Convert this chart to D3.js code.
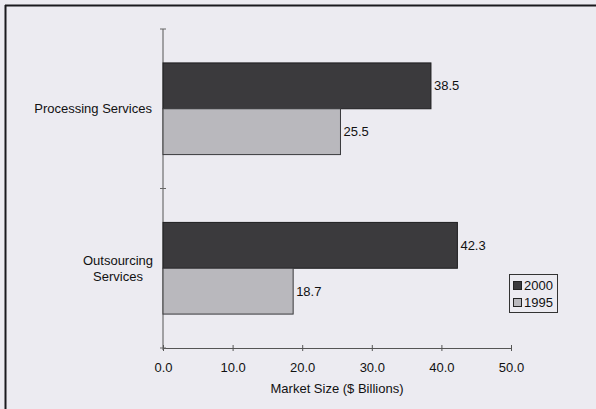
<!DOCTYPE html>
<html>
<head>
<meta charset="utf-8">
<script src="https://cdn.jsdelivr.net/npm/d3@7"></script>
<style>
  html, body { margin: 0; padding: 0; background: #ecebf1; }
  svg { display: block; }
  text { font-family: "Liberation Sans", Arial, sans-serif; fill: #111; }
</style>
</head>
<body>
<svg id="chart" width="596" height="409"></svg>
<script>
// Market size by service type, in $ billions
const categories = ["Processing Services", "Outsourcing Services"];
const categoryLines = [["Processing Services"], ["Outsourcing", "Services"]];
const seriesNames = ["2000", "1995"];
const values2000 = [38.5, 42.3];
const values1995 = [25.5, 18.7];
const xTicks = [0, 10, 20, 30, 40, 50];
const xTitle = "Market Size ($ Billions)";

const seriesValues = [values2000, values1995];
const fills = ["#3b3a3d", "#b9b8bd"];
const strokes = ["#1e1e20", "#3a3a3c"];

const svg = d3.select("#chart");

// page frame (top and left edges)
svg.append("line").attr("x1", 5).attr("x2", 596).attr("y1", 5.5).attr("y2", 5.5)
  .attr("stroke", "#1a1a1e").attr("stroke-width", 2);
svg.append("line").attr("x1", 5.5).attr("x2", 5.5).attr("y1", 5).attr("y2", 409)
  .attr("stroke", "#1a1a1e").attr("stroke-width", 2);

const plot = { left: 163, right: 511, top: 29, bottom: 348 };

const x = d3.scaleLinear().domain([0, 50]).range([plot.left, plot.right]);
const y = d3.scaleBand().domain(categories).range([plot.top, plot.bottom]);
const inner = d3.scaleBand().domain(seriesNames).range([0, y.bandwidth()]).paddingOuter(0.74).paddingInner(0);

// x axis
const xAxis = d3.axisBottom(x).tickValues(xTicks).tickFormat(d3.format(".1f")).tickSize(0);
const gx = svg.append("g").attr("transform", `translate(0,${plot.bottom})`).call(xAxis);
gx.select(".domain").attr("stroke", "#555");
gx.selectAll(".tick line").remove();
gx.selectAll(".tick").append("line").attr("y1", -3).attr("y2", 3).attr("stroke", "#555");
gx.selectAll(".tick text").attr("dy", 0).attr("y", 24).attr("font-size", 13)
  .style("font-family", "Liberation Sans, Arial, sans-serif").attr("fill", "#111");

svg.append("text").attr("x", (plot.left + plot.right) / 2).attr("y", 393)
  .attr("text-anchor", "middle").attr("font-size", 13).text(xTitle);

// y axis with ticks at category boundaries
svg.append("line").attr("x1", plot.left).attr("x2", plot.left)
  .attr("y1", plot.top).attr("y2", plot.bottom + 2).attr("stroke", "#555");
const yBounds = categories.map(c => y(c)).concat([plot.bottom]);
svg.selectAll(".ytick").data(yBounds).join("line")
  .attr("x1", plot.left - 3).attr("x2", plot.left + 3)
  .attr("y1", d => d).attr("y2", d => d).attr("stroke", "#666");

// category labels
categories.forEach((c, i) => {
  const lines = categoryLines[i];
  const cy = y(c) + y.bandwidth() / 2;
  const lh = 16;
  const t = svg.append("text")
    .attr("text-anchor", lines.length > 1 ? "middle" : "end")
    .attr("font-size", 13);
  lines.forEach((ln, j) => {
    t.append("tspan")
      .attr("x", lines.length > 1 ? 118 : 152)
      .attr("y", cy + (j - (lines.length - 1) / 2) * lh + 4.5)
      .text(ln);
  });
});

// bars and value labels
seriesNames.forEach((s, si) => {
  const g = svg.append("g");
  g.selectAll("rect").data(categories).join("rect")
    .attr("x", x(0))
    .attr("y", c => y(c) + inner(s))
    .attr("width", (c, i) => x(seriesValues[si][i]) - x(0))
    .attr("height", inner.bandwidth())
    .attr("fill", fills[si])
    .attr("stroke", strokes[si])
    .attr("stroke-width", 1);
  g.selectAll("text").data(categories).join("text")
    .attr("x", (c, i) => x(seriesValues[si][i]) + 3)
    .attr("y", c => y(c) + inner(s) + inner.bandwidth() / 2 + 4.5)
    .attr("font-size", 13)
    .text((c, i) => seriesValues[si][i].toFixed(1));
});

// legend
const lg = svg.append("g").attr("transform", "translate(509,274)");
lg.append("rect").attr("x", 0.5).attr("y", 0.5).attr("width", 48).attr("height", 38)
  .attr("fill", "#ecebf1").attr("stroke", "#333");
seriesNames.forEach((s, i) => {
  lg.append("rect").attr("x", 4.5).attr("y", 7.5 + i * 17).attr("width", 8).attr("height", 8)
    .attr("fill", fills[i]).attr("stroke", "#222");
  lg.append("text").attr("x", 15).attr("y", 16 + i * 17).attr("font-size", 13).text(s);
});
</script>
</body>
</html>
